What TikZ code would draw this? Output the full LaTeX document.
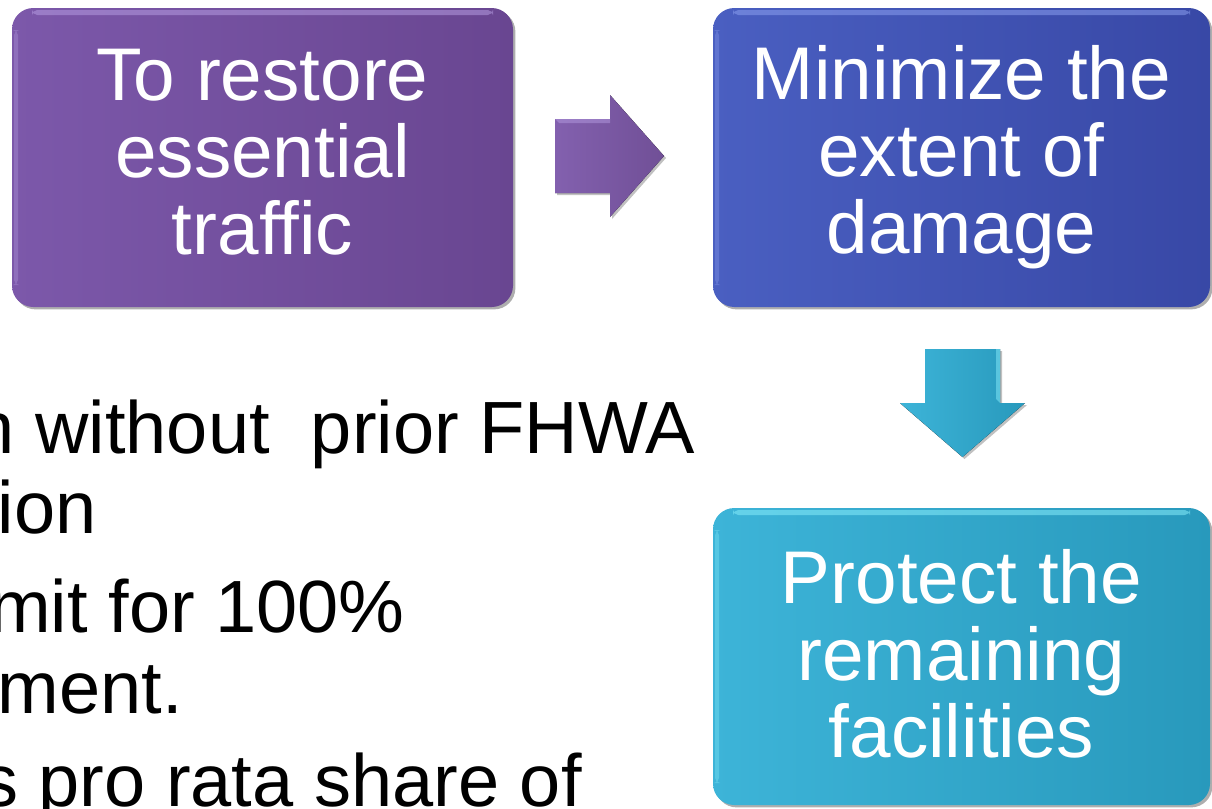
\documentclass[tikz,border=0pt]{standalone}
\usepackage{fontspec}
\setmainfont{Liberation Sans}
\usetikzlibrary{shadows}
\definecolor{pA}{HTML}{7C58AA}
\definecolor{pB}{HTML}{694691}
\definecolor{pH}{HTML}{B49BE0}
\definecolor{bA}{HTML}{4A5FC1}
\definecolor{bB}{HTML}{3848A6}
\definecolor{bH}{HTML}{8A9EEE}
\definecolor{cA}{HTML}{3DB4D8}
\definecolor{cB}{HTML}{2899BC}
\definecolor{cH}{HTML}{86ECFA}
\tikzset{
  stagebox/.style={rounded corners=16pt, inner sep=0pt,
    drop shadow={shadow xshift=1.8pt, shadow yshift=-1.8pt, opacity=0.45, fill=black!70}},
  gloss/.style={rounded corners=4pt, fill=#1, opacity=0.55},
  boxtext/.style={text=white, align=center, inner sep=0pt,
    font=\fontsize{56}{57.8}\selectfont},
  bodytext/.style={anchor=base east, inner sep=0pt, text=black,
    font=\fontsize{55.5}{60}\selectfont},
  blockarrow/.style={drop shadow={shadow xshift=1.5pt, shadow yshift=-1.5pt, opacity=0.35, fill=black!70}}
}
\begin{document}
\begin{tikzpicture}[x=0.75pt,y=-0.75pt]
\useasboundingbox (0,0) rectangle (1212,808);
\clip (0,0) rectangle (1212,808);
% background bullet text (cut off at left edge)
\node[bodytext] (l1) at (695,453) {n without\ \ prior FHWA};
\node[bodytext] (l2) at (97,533) {ion};
\node[bodytext] (l3) at (405,632) {mit for 100\%};
\node[bodytext] (l4) at (183,713) {ment.};
\node[bodytext] (l5) at (582,806) {s pro rata share of};
% boxes
\node[stagebox, minimum width=375.75pt, minimum height=224.25pt,
      left color=pA, right color=pB] (b1) at (262.5,157.5) {};
\node[stagebox, minimum width=372.75pt, minimum height=224.25pt,
      left color=bA, right color=bB] (b2) at (961.5,157.5) {};
\node[stagebox, minimum width=372.75pt, minimum height=222.75pt,
      left color=cA, right color=cB] (b3) at (961.5,656.5) {};
% gloss highlights
\fill[gloss=pH] (32,10) rectangle (493,15);
\fill[gloss=bH] (733,10) rectangle (1190,15);
\fill[gloss=cH] (733,510) rectangle (1190,515);
\fill[gloss=pH, opacity=0.35] (14,30) rectangle (18,285);
\fill[gloss=bH, opacity=0.35] (715,30) rectangle (719,285);
\fill[gloss=cH, opacity=0.35] (715,530) rectangle (719,783);
% texts
\node[boxtext] (t1) at (262.5,152.5) {To restore\\essential\\traffic};
\node[boxtext] (t2) at (961.5,157) {Minimize the\\extent of\\damage};
\node[boxtext] (t3) at (961.5,654) {Protect the\\remaining\\facilities};
% block arrows
\fill[blockarrow, left color=pA!95, right color=pB!95]
  (555,119) -- (610,119) -- (610,95) -- (664,156) -- (610,217) -- (610,193) -- (555,193) -- cycle;
\fill[pH, opacity=0.5] (555,119) -- (610,119) -- (610,123) -- (559,123) -- cycle;
\fill[blockarrow, left color=cA, right color=cB]
  (925,349) -- (1000,349) -- (1000,403) -- (1025,403) -- (962.5,457) -- (900,403) -- (925,403) -- cycle;
\fill[cH, opacity=0.5] (996,349) -- (1000,349) -- (1000,403) -- (996,399) -- cycle;
\end{tikzpicture}
\end{document}
